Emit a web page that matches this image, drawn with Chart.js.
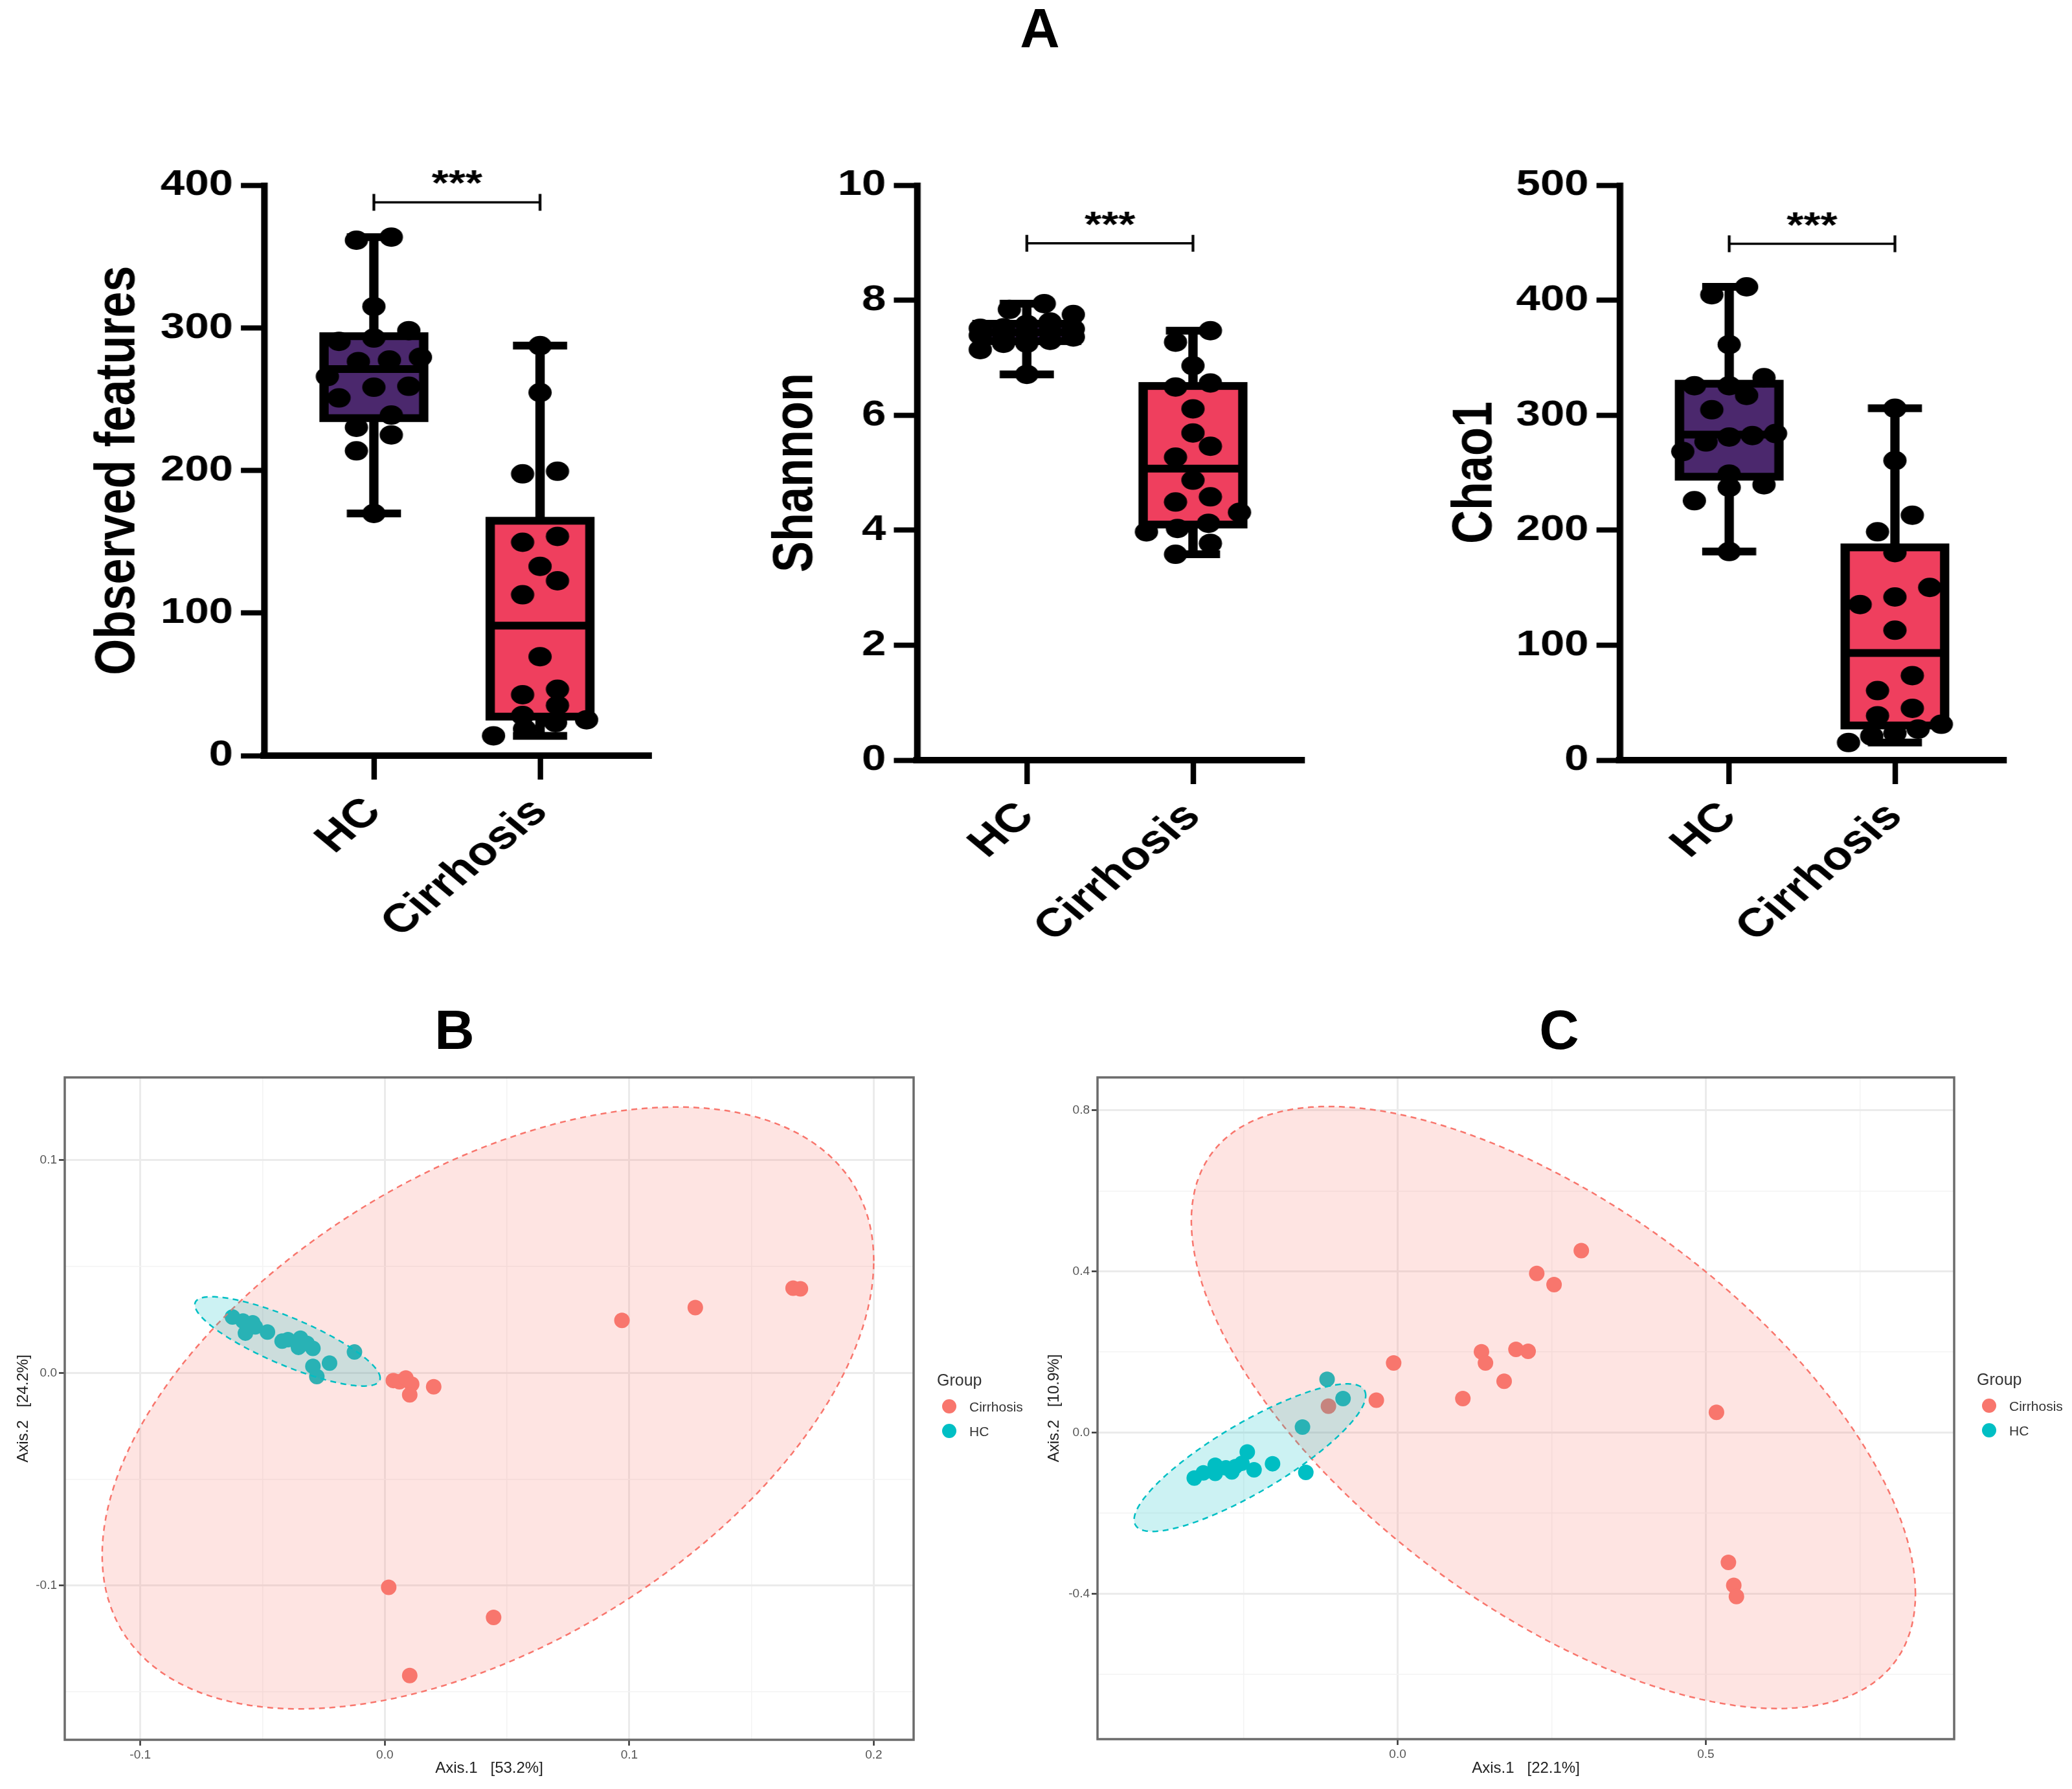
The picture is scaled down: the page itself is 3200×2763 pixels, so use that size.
<!DOCTYPE html>
<html>
<head>
<meta charset="utf-8">
<script src="https://cdn.jsdelivr.net/npm/chart.js@4.4.1/dist/chart.umd.min.js"></script>
<style>
  body { margin: 0; width: 3200px; height: 2763px; position: relative; overflow: hidden; background: #fff;
         font-family: "Liberation Sans", Arial, Helvetica, sans-serif; }
  .letter { position: absolute; font-weight: bold; font-size: 85px; line-height: 1; transform: translate(-50%, -50%); color: #000; }
  .stretch { position: absolute; transform: scaleX(1.2); transform-origin: 0 0; }
  .pcoa { position: absolute; }
  .lg { position: absolute; transform: translateY(-50%); color: #333; white-space: nowrap; line-height: 1; }
  .key { position: absolute; width: 22px; height: 22px; border-radius: 50%; transform: translate(-50%, -50%); }
</style>
</head>
<body>
<div class="letter" style="left:1606px; top:43px;">A</div>
<div class="letter" style="left:702px; top:1590px;">B</div>
<div class="letter" style="left:2408px; top:1590px;">C</div>
<script>
// ---- alpha diversity (panel A) ----
const boxCategories = ['HC', 'Cirrhosis'];
const observedHC = [361.4, 363.6, 314.9, 290.5, 292.8, 298.0, 276.3, 279.3, 277.4, 258.3, 265.8, 259.0, 250.8, 238.8, 230.2, 224.9, 213.7, 169.8];
const observedCirrhosis = [287.5, 254.6, 199.4, 197.6, 149.6, 153.7, 132.7, 122.6, 112.8, 69.4, 42.7, 46.5, 35.2, 28.1, 25.1, 23.2, 18.7, 13.9];
const shannonHC = [7.84, 7.94, 7.75, 7.42, 7.39, 7.51, 7.25, 7.14, 7.25, 7.62, 7.50, 7.36, 6.71, 7.46, 7.52, 7.40, 7.30, 7.58];
const shannonCirrhosis = [7.47, 7.27, 6.86, 6.49, 6.56, 6.11, 5.69, 5.46, 5.27, 4.87, 4.49, 4.58, 4.31, 4.03, 4.12, 3.97, 3.77, 3.58];
const chao1HC = [411.6, 404.7, 361.4, 332.6, 325.6, 325.6, 317.2, 304.7, 284.0, 281.0, 282.3, 276.7, 268.4, 248.8, 239.5, 237.2, 225.6, 181.4];
const chao1Cirrhosis = [306.0, 260.5, 213.0, 198.6, 180.5, 150.2, 141.9, 135.3, 113.0, 73.5, 60.5, 45.1, 38.6, 31.2, 27.0, 23.3, 20.9, 15.3];
const observedTicks = [0, 100, 200, 300, 400];
const shannonTicks = [0, 2, 4, 6, 8, 10];
const chao1Ticks = [0, 100, 200, 300, 400, 500];
const sigLevels = [388, 8.99, 449];
const sigLabel = '***';

// ---- PCoA (panels B, C) ----
const pcoaGroups = ['Cirrhosis', 'HC'];
const bCirrhosisAxis1 = [0.167, 0.170, 0.127, 0.097, 0.0035, 0.006, 0.0086, 0.011, 0.0102, 0.020, 0.0016, 0.0445, 0.0102];
const bCirrhosisAxis2 = [0.0398, 0.0395, 0.0307, 0.0247, -0.0036, -0.0042, -0.0024, -0.0053, -0.0103, -0.0065, -0.1008, -0.115, -0.1423];
const bHCAxis1 = [-0.0623, -0.058, -0.054, -0.053, -0.057, -0.048, -0.042, -0.0396, -0.0345, -0.0353, -0.0318, -0.0294, -0.0294, -0.0278, -0.0226, -0.0124];
const bHCAxis2 = [0.0263, 0.0244, 0.0235, 0.0216, 0.0187, 0.0192, 0.0149, 0.0156, 0.0163, 0.012, 0.0139, 0.0115, 0.0031, -0.0017, 0.0046, 0.0098];
const cCirrhosisAxis1 = [0.298, 0.2257, 0.2538, -0.0065, 0.136, 0.1425, 0.192, 0.2117, 0.1728, 0.1058, -0.0346, -0.1123, 0.5173, 0.5367, 0.5454, 0.5497];
const cCirrhosisAxis2 = [0.452, 0.3953, 0.3676, 0.173, 0.2008, 0.173, 0.207, 0.202, 0.1276, 0.0846, 0.0808, 0.0657, 0.0505, -0.322, -0.379, -0.4067];
const cHCAxis1 = [-0.1145, -0.0886, -0.1544, -0.149, -0.203, -0.244, -0.233, -0.2527, -0.269, -0.2786, -0.296, -0.296, -0.3153, -0.330, -0.2635];
const cHCAxis2 = [0.1326, 0.0846, 0.0139, -0.0985, -0.077, -0.048, -0.0922, -0.0758, -0.0973, -0.0872, -0.0808, -0.101, -0.0998, -0.1124, -0.0846];
// 95% ellipses: [centre x, centre y, x half-width, y offset at the rightmost point, remaining y radius]
const bEllipseCirrhosis = [0.0422, -0.0165, 0.1578, 0.0692, 0.1234];
const bEllipseHC = [-0.0398, 0.0148, 0.0379, -0.0172, 0.01205];
const cEllipseCirrhosis = [0.2527, 0.0625, 0.5875, -0.4629, 0.5864];
const cEllipseHC = [-0.2397, -0.0619, 0.1879, 0.1541, 0.0990];
const bXMajor = [-0.1, 0, 0.1, 0.2];
const bYMajor = [-0.1, 0, 0.1];
const cXMajor = [0, 0.5];
const cYMajor = [-0.4, 0, 0.4, 0.8];

const FONT = '"Liberation Sans", Arial, Helvetica, sans-serif';
const groupColors = ['#F8766D', '#00BFC4'];
const ellipseFills = ['rgba(248,118,109,0.2)', 'rgba(0,191,196,0.2)'];
const boxFills = ['#4B286D', '#EF3F5E'];
Chart.defaults.font.family = FONT;

function quantile(s, p) {
  const n = s.length, pos = (n + 1) * p, lo = Math.floor(pos), f = pos - lo;
  if (lo < 1) return s[0];
  if (lo >= n) return s[n - 1];
  return s[lo - 1] + f * (s[lo] - s[lo - 1]);
}

function boxStats(values) {
  const s = values.slice().sort((a, b) => a - b);
  return { min: s[0], q1: quantile(s, 0.25), median: quantile(s, 0.5), q3: quantile(s, 0.75), max: s[s.length - 1] };
}

// group close values into rows, spread each row sideways (scatter dot plot)
function swarm(values, center, rowSpan) {
  const sorted = values.slice().sort((a, b) => a - b);
  const rows = [];
  sorted.forEach(v => {
    const row = rows[rows.length - 1];
    if (row && v - row[0] < rowSpan && row.length < 5) row.push(v);
    else rows.push([v]);
  });
  const pts = [];
  rows.forEach(row => {
    const k = row.length;
    const step = k > 1 ? Math.min(0.21, 0.56 / (k - 1)) : 0;
    row.forEach((v, j) => pts.push({ x: center + (j - (k - 1) / 2) * step, y: v }));
  });
  return pts;
}

function boxPlugin(groups) {
  return {
    id: 'boxes',
    beforeDatasetsDraw(chart) {
      const { ctx, scales: { x, y } } = chart;
      groups.forEach((g, i) => {
        const s = g.stats;
        const xc = x.getPixelForValue(i);
        const hw = x.getPixelForValue(i + 0.30) - xc;
        const cw = x.getPixelForValue(i + 0.163) - xc;
        ctx.save();
        ctx.strokeStyle = '#000';
        ctx.lineWidth = 12;
        ctx.beginPath();
        ctx.moveTo(xc, y.getPixelForValue(s.min));
        ctx.lineTo(xc, y.getPixelForValue(s.max));
        ctx.moveTo(xc - cw, y.getPixelForValue(s.min));
        ctx.lineTo(xc + cw, y.getPixelForValue(s.min));
        ctx.moveTo(xc - cw, y.getPixelForValue(s.max));
        ctx.lineTo(xc + cw, y.getPixelForValue(s.max));
        ctx.stroke();
        const top = y.getPixelForValue(s.q3), bot = y.getPixelForValue(s.q1);
        ctx.fillStyle = boxFills[i];
        ctx.fillRect(xc - hw, top, 2 * hw, bot - top);
        ctx.strokeRect(xc - hw, top, 2 * hw, bot - top);
        const ym = y.getPixelForValue(s.median);
        ctx.beginPath();
        ctx.moveTo(xc - hw, ym);
        ctx.lineTo(xc + hw, ym);
        ctx.stroke();
        ctx.restore();
      });
    }
  };
}

function sigPlugin(level) {
  return {
    id: 'sig',
    afterDatasetsDraw(chart) {
      const { ctx, scales: { x, y } } = chart;
      const yp = y.getPixelForValue(level), x0 = x.getPixelForValue(0), x1 = x.getPixelForValue(1);
      ctx.save();
      ctx.strokeStyle = '#000';
      ctx.lineWidth = 3.5;
      ctx.beginPath();
      ctx.moveTo(x0, yp); ctx.lineTo(x1, yp);
      ctx.moveTo(x0, yp - 13); ctx.lineTo(x0, yp + 13);
      ctx.moveTo(x1, yp - 13); ctx.lineTo(x1, yp + 13);
      ctx.stroke();
      ctx.fillStyle = '#000';
      ctx.font = 'bold 56px ' + FONT;
      ctx.textAlign = 'center';
      ctx.textBaseline = 'alphabetic';
      ctx.fillText(sigLabel, (x0 + x1) / 2, yp - 11);
      ctx.restore();
    }
  };
}

function makeBoxChart(cfg) {
  const wrap = document.createElement('div');
  wrap.className = 'stretch';
  wrap.style.left = cfg.left + 'px';
  wrap.style.top = '200px';
  wrap.style.width = (cfg.width / 1.2) + 'px';
  wrap.style.height = '1300px';
  const canvas = document.createElement('canvas');
  wrap.appendChild(canvas);
  document.body.appendChild(wrap);
  const yMax = cfg.ticks[cfg.ticks.length - 1];
  const groups = cfg.series.map((vals, i) => ({ stats: boxStats(vals), points: swarm(vals, i, yMax * 0.034) }));
  new Chart(canvas, {
    type: 'scatter',
    data: {
      datasets: groups.map((g, i) => ({
        label: boxCategories[i], data: g.points, pointRadius: 15, pointHoverRadius: 15,
        backgroundColor: '#000', borderWidth: 0, clip: false
      }))
    },
    options: {
      responsive: true, maintainAspectRatio: false, animation: false, events: [],
      layout: { padding: { top: cfg.padTop, right: cfg.padRight, left: 0, bottom: 0 } },
      plugins: { legend: { display: false }, tooltip: { enabled: false } },
      scales: {
        x: {
          type: 'linear', min: -0.66, max: 1.67,
          afterBuildTicks: s => { s.ticks = boxCategories.map((c, i) => ({ value: i })); },
          afterFit: s => { s.height = 1300 - cfg.bottom; },
          ticks: {
            callback: v => boxCategories[v] ?? '', autoSkip: false, minRotation: 45, maxRotation: 45,
            padding: 14, color: '#000', font: { size: 62, weight: 'bold' }
          },
          grid: { drawOnChartArea: false, drawTicks: true, tickLength: 37, tickWidth: 7, tickColor: '#000' },
          border: { display: true, color: '#000', width: 10 }
        },
        y: {
          min: 0, max: yMax,
          afterBuildTicks: s => { s.ticks = cfg.ticks.map(v => ({ value: v })); },
          afterFit: s => { s.width = cfg.yWidth; },
          ticks: { padding: 10, color: '#000', font: { size: 56, weight: 'bold' } },
          grid: { drawOnChartArea: false, drawTicks: true, tickLength: 30, tickWidth: 8, tickColor: '#000' },
          border: { display: true, color: '#000', width: 8.5 },
          title: {
            display: true, text: cfg.title, color: '#000',
            font: { size: 72, weight: 'bold' }, padding: { top: cfg.titlePad, bottom: 0 }
          }
        }
      }
    },
    plugins: [boxPlugin(groups), sigPlugin(cfg.sig)]
  });
}

function ellipsePlugin(ellipses) {
  return {
    id: 'ellipses',
    afterDatasetsDraw(chart) {
      const { ctx, scales: { x, y } } = chart;
      ellipses.forEach((e, i) => {
        const [cx, cy, a, p, q] = e;
        ctx.save();
        ctx.beginPath();
        for (let k = 0; k <= 180; k++) {
          const t = k / 180 * 2 * Math.PI;
          const px = x.getPixelForValue(cx + a * Math.cos(t));
          const py = y.getPixelForValue(cy + p * Math.cos(t) + q * Math.sin(t));
          if (k === 0) ctx.moveTo(px, py); else ctx.lineTo(px, py);
        }
        ctx.closePath();
        ctx.fillStyle = ellipseFills[i];
        ctx.fill();
        ctx.setLineDash([9, 7]);
        ctx.lineWidth = 2.5;
        ctx.strokeStyle = groupColors[i];
        ctx.stroke();
        ctx.restore();
      });
    },
    afterDraw(chart) {
      const { ctx, chartArea: c } = chart;
      ctx.save();
      ctx.strokeStyle = '#6b6b6b';
      ctx.lineWidth = 3.5;
      ctx.strokeRect(c.left, c.top, c.right - c.left, c.bottom - c.top);
      ctx.restore();
    }
  };
}

function withMinor(major, min, max) {
  const step = major.length > 1 ? major[1] - major[0] : 0.5;
  const all = [];
  for (let v = major[0] - 2 * step; v <= major[major.length - 1] + 2 * step + 1e-9; v += step / 2) {
    const r = Math.round(v * 1e6) / 1e6;
    if (r >= min && r <= max) all.push(r);
  }
  return all;
}

function isMajor(list, v) { return list.some(m => Math.abs(m - v) < 1e-6); }

function pcoaScale(major, min, max, title, titlePad, extra) {
  return Object.assign({
    type: 'linear', min, max,
    afterBuildTicks: s => { s.ticks = withMinor(major, min, max).map(v => ({ value: v })); },
    ticks: {
      autoSkip: false, maxRotation: 0, color: '#555', font: { size: 19 },
      callback: v => isMajor(major, v) ? v.toFixed(1) : ''
    },
    grid: {
      drawTicks: true, tickLength: 9,
      color: c => isMajor(major, c.tick.value) ? '#EBEBEB' : '#F3F3F3',
      lineWidth: c => isMajor(major, c.tick.value) ? 3 : 1.5,
      tickColor: c => isMajor(major, c.tick.value) ? '#333' : 'rgba(0,0,0,0)',
      tickWidth: 2.5
    },
    border: { display: false },
    title: { display: true, text: title, color: '#222', font: { size: 24 }, padding: titlePad }
  }, extra);
}

function makePcoa(cfg) {
  const wrap = document.createElement('div');
  wrap.className = 'pcoa';
  wrap.style.left = cfg.left + 'px';
  wrap.style.top = '1530px';
  wrap.style.width = '1600px';
  wrap.style.height = '1233px';
  const canvas = document.createElement('canvas');
  wrap.appendChild(canvas);
  document.body.appendChild(wrap);
  new Chart(canvas, {
    type: 'scatter',
    data: {
      datasets: pcoaGroups.map((g, i) => ({
        label: g,
        data: cfg.axis1[i].map((v, k) => ({ x: v, y: cfg.axis2[i][k] })),
        pointRadius: 12, pointHoverRadius: 12, backgroundColor: groupColors[i], borderWidth: 0
      }))
    },
    options: {
      responsive: true, maintainAspectRatio: false, animation: false, events: [],
      layout: { padding: { top: 134, right: cfg.padRight, left: 0, bottom: 0 } },
      plugins: { legend: { display: false }, tooltip: { enabled: false } },
      scales: {
        x: pcoaScale(cfg.xMajor, cfg.xRange[0], cfg.xRange[1], cfg.xTitle, { top: 4, bottom: 17 }, {
          afterFit: s => { s.height = 1233 - (cfg.bottom - 1530); }
        }),
        y: pcoaScale(cfg.yMajor, cfg.yRange[0], cfg.yRange[1], cfg.yTitle, { top: cfg.yTitlePad, bottom: 4 }, {
          afterFit: s => { s.width = cfg.yWidth; }
        })
      }
    },
    plugins: [ellipsePlugin(cfg.ellipses)]
  });
  // ggplot-style legend
  const L = cfg.legend;
  const title = document.createElement('div');
  title.className = 'lg';
  title.style.cssText = `left:${L.x}px; top:${L.y}px; font-size:25px;`;
  title.textContent = 'Group';
  document.body.appendChild(title);
  pcoaGroups.forEach((g, i) => {
    const yy = L.y + 41 + i * 38;
    const key = document.createElement('div');
    key.className = 'key';
    key.style.cssText = `left:${L.x + 19}px; top:${yy}px; background:${groupColors[i]};`;
    document.body.appendChild(key);
    const lab = document.createElement('div');
    lab.className = 'lg';
    lab.style.cssText = `left:${L.x + 50}px; top:${yy}px; font-size:21px;`;
    lab.textContent = g;
    document.body.appendChild(lab);
  });
}

makeBoxChart({ left: 0, width: 1060, padTop: 86, padRight: 45, bottom: 967, yWidth: 340, titlePad: 110,
  series: [observedHC, observedCirrhosis], ticks: observedTicks, title: 'Observed features', sig: sigLevels[0] });
makeBoxChart({ left: 1060, width: 1060, padTop: 86, padRight: 88, bottom: 974, yWidth: 297, titlePad: 99,
  series: [shannonHC, shannonCirrhosis], ticks: shannonTicks, title: 'Shannon', sig: sigLevels[1] });
makeBoxChart({ left: 2120, width: 1080, padTop: 86, padRight: 85, bottom: 974, yWidth: 318, titlePad: 90,
  series: [chao1HC, chao1Cirrhosis], ticks: chao1Ticks, title: 'Chao1', sig: sigLevels[2] });

makePcoa({ left: 0, padRight: 189, yWidth: 100, bottom: 2687, yTitlePad: 22,
  axis1: [bCirrhosisAxis1, bHCAxis1], axis2: [bCirrhosisAxis2, bHCAxis2],
  ellipses: [bEllipseCirrhosis, bEllipseHC], xMajor: bXMajor, yMajor: bYMajor,
  xRange: [-0.1309, 0.2163], yRange: [-0.1725, 0.1389],
  xTitle: 'Axis.1   [53.2%]', yTitle: 'Axis.2   [24.2%]', legend: { x: 1447, y: 2131 } });
makePcoa({ left: 1600, padRight: 182, yWidth: 95, bottom: 2686, yTitlePad: 14,
  axis1: [cCirrhosisAxis1, cHCAxis1], axis2: [cCirrhosisAxis2, cHCAxis2],
  ellipses: [cEllipseCirrhosis, cEllipseHC], xMajor: cXMajor, yMajor: cYMajor,
  xRange: [-0.487, 0.903], yRange: [-0.7605, 0.8817],
  xTitle: 'Axis.1   [22.1%]', yTitle: 'Axis.2   [10.9%]', legend: { x: 3053, y: 2130 } });
</script>
</body>
</html>
